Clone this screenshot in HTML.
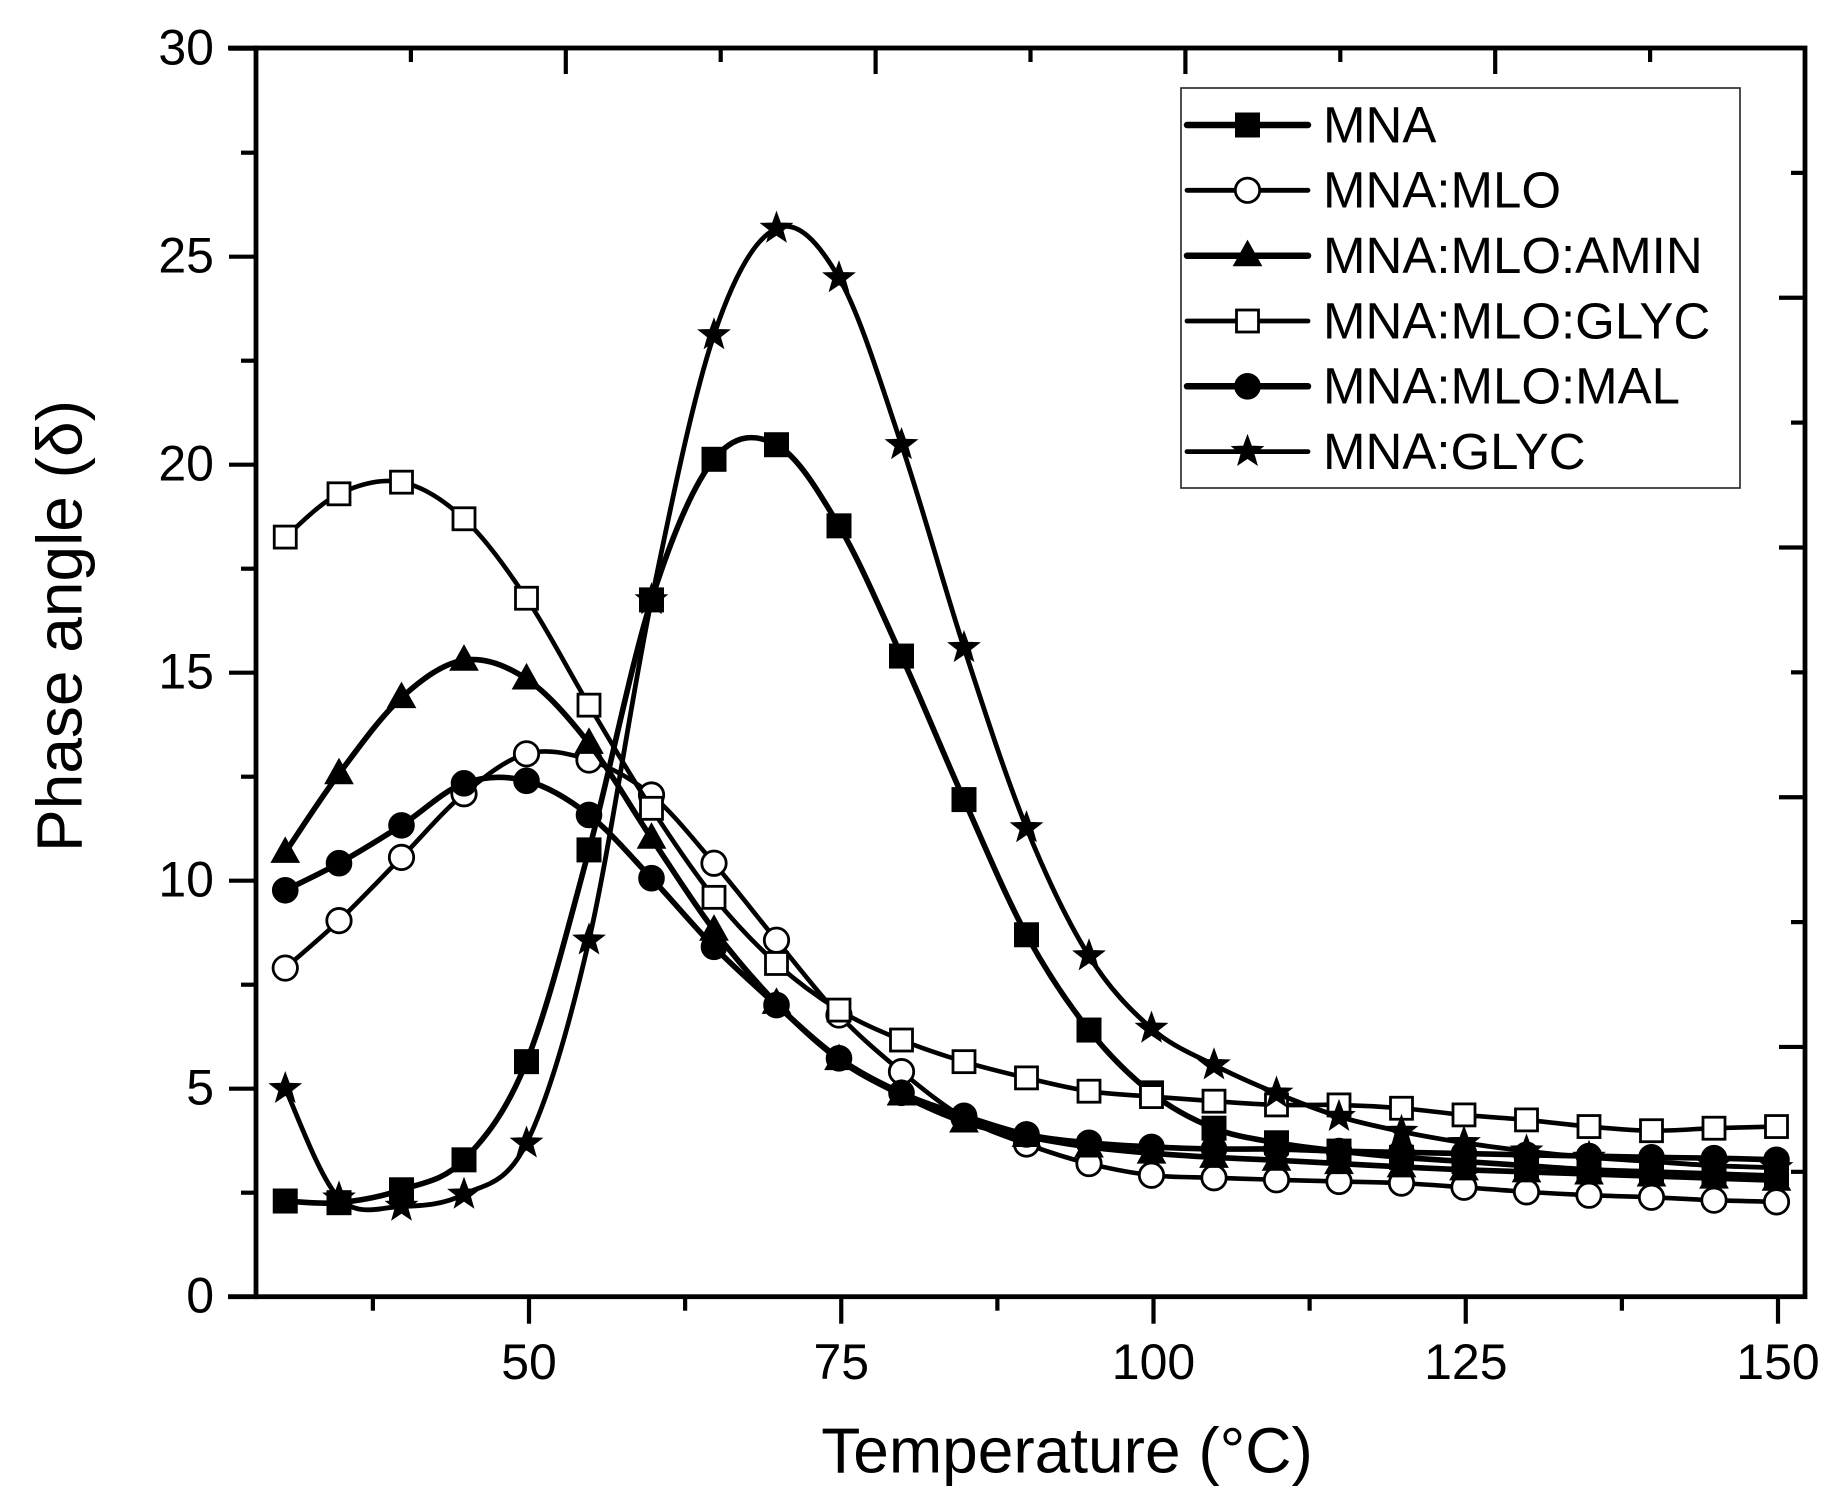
<!DOCTYPE html>
<html>
<head>
<meta charset="utf-8">
<style>
  html, body { margin:0; padding:0; background:#fff; }
  svg { display:block; }
  text { font-family: "Liberation Sans", Arial, sans-serif; fill:#000; }
</style>
</head>
<body>
<svg id="chart" width="1844" height="1511" viewBox="0 0 1844 1511" xmlns="http://www.w3.org/2000/svg">
  <rect x="0" y="0" width="1844" height="1511" fill="#fff"/>
  <g id="ticks" stroke="#000" stroke-width="4.2" stroke-linecap="butt"></g>
  <!-- frame -->
  <rect x="256" y="48" width="1549" height="1248.7" fill="none" stroke="#000" stroke-width="4.8"/>
  <line x1="228" y1="1296.7" x2="258" y2="1296.7" stroke="#000" stroke-width="4.8"/>
  <line x1="228" y1="48" x2="258" y2="48" stroke="#000" stroke-width="4.8"/>

  <g id="series"></g>

  <!-- Y tick labels -->
  <g font-size="50" text-anchor="end">
    <text x="214" y="1312.7">0</text>
    <text x="214" y="1104.7">5</text>
    <text x="214" y="896.7">10</text>
    <text x="214" y="688.7">15</text>
    <text x="214" y="480.7">20</text>
    <text x="214" y="272.7">25</text>
    <text x="214" y="64.7">30</text>
  </g>
  <!-- X tick labels -->
  <g font-size="50" text-anchor="middle">
    <text x="529" y="1379">50</text>
    <text x="841.3" y="1379">75</text>
    <text x="1153.5" y="1379">100</text>
    <text x="1465.8" y="1379">125</text>
    <text x="1778" y="1379">150</text>
  </g>
  <!-- Axis titles -->
  <text x="1067" y="1472.7" font-size="64" text-anchor="middle">Temperature (°C)</text>
  <text transform="translate(81.7,626) rotate(-90)" font-size="64" text-anchor="middle">Phase angle (δ)</text>

  <!-- Legend -->
  <rect x="1181" y="88" width="559" height="400" fill="#fff" stroke="#222" stroke-width="1.6"/>
  <g id="legend"></g>
  <g font-size="51">
    <text x="1323" y="142.3">MNA</text>
    <text x="1323" y="207.6">MNA:MLO</text>
    <text x="1323" y="273">MNA:MLO:AMIN</text>
    <text x="1323" y="338.3">MNA:MLO:GLYC</text>
    <text x="1323" y="403.6">MNA:MLO:MAL</text>
    <text x="1323" y="469">MNA:GLYC</text>
  </g>
</svg>
<script>
(function(){
  var NS = "http://www.w3.org/2000/svg";
  function el(tag, attrs, parent){
    var e = document.createElementNS(NS, tag);
    for (var k in attrs) e.setAttribute(k, attrs[k]);
    parent.appendChild(e);
    return e;
  }
  // ---------- ticks ----------
  var tg = document.getElementById("ticks");
  for (var i = 0; i <= 12; i++) {
    var v = i * 2.5, y = 1296.7 - v * 41.6;
    var len = (i % 2 === 0) ? 27 : 15;
    el("line", {x1: 256, y1: y, x2: 256 - len, y2: y}, tg);
  }
  var bt = [37.5, 50, 62.5, 75, 87.5, 100, 112.5, 125, 137.5, 150];
  bt.forEach(function(T){
    var x = 529 + (T - 50) * 12.49;
    var major = (T % 25 === 0);
    el("line", {x1: x, y1: 1296.7, x2: x, y2: 1296.7 + (major ? 27 : 14)}, tg);
  });
  for (var k = 1; k <= 9; k++) {
    var x = 256 + k * 154.9;
    el("line", {x1: x, y1: 48, x2: x, y2: 48 + (k % 2 === 0 ? 26 : 14)}, tg);
  }
  for (var k = 1; k <= 9; k++) {
    var y = 48 + k * 124.87;
    el("line", {x1: 1805, y1: y, x2: 1805 - (k % 2 === 0 ? 26 : 14), y2: y}, tg);
  }

  // ---------- data ----------
  var Ts = [30.7];
  for (var t = 35; t <= 150; t += 5) Ts.push(t);
  function X(T){ return 526.5 + (T - 50) * 12.5; }
  function Y(v){ return 1296.7 - v * 41.6; }

  var series = [
    {name:"MNA", m:"sq", fill:true, lw:5.6, d:[2.30,2.26,2.57,3.29,5.65,10.74,16.75,20.13,20.48,18.53,15.4,11.95,8.7,6.41,4.9,4.05,3.7,3.5,3.35,3.25,3.15,3.05,3.0,2.95,2.9]},
    {name:"MLO", m:"ci", fill:false, lw:4.6, d:[7.9,9.04,10.56,12.09,13.05,12.9,12.06,10.42,8.57,6.77,5.41,4.3,3.67,3.2,2.92,2.86,2.81,2.77,2.73,2.63,2.52,2.44,2.39,2.32,2.28]},
    {name:"AMIN", m:"tr", fill:true, lw:5.6, d:[10.68,12.57,14.4,15.3,14.85,13.3,11.02,8.81,7.05,5.7,4.85,4.2,3.85,3.6,3.45,3.35,3.28,3.2,3.12,3.05,3.0,2.95,2.9,2.85,2.8]},
    {name:"GLYC", m:"sq", fill:false, lw:4.6, d:[18.26,19.3,19.58,18.7,16.79,14.22,11.74,9.6,8.01,6.89,6.17,5.65,5.26,4.94,4.81,4.70,4.61,4.61,4.53,4.37,4.25,4.09,3.99,4.05,4.09]},
    {name:"MAL", m:"ci", fill:true, lw:5.6, d:[9.77,10.42,11.33,12.34,12.4,11.58,10.06,8.41,7.01,5.73,4.9,4.35,3.9,3.7,3.6,3.55,3.55,3.5,3.47,3.44,3.41,3.38,3.35,3.33,3.29]},
    {name:"STAR", m:"st", fill:true, lw:4.8, d:[5.0,2.37,2.17,2.46,3.69,8.57,16.75,23.12,25.68,24.49,20.48,15.6,11.27,8.19,6.45,5.57,4.89,4.33,3.97,3.7,3.5,3.35,3.25,3.15,3.1]}
  ];

  function splinePath(pts){
    var d = "M" + pts[0][0].toFixed(2) + "," + pts[0][1].toFixed(2);
    for (var i = 0; i < pts.length - 1; i++) {
      var p0 = pts[i-1] || pts[i], p1 = pts[i], p2 = pts[i+1], p3 = pts[i+2] || pts[i+1];
      var c1x = p1[0] + (p2[0] - p0[0]) / 6, c1y = p1[1] + (p2[1] - p0[1]) / 6;
      var c2x = p2[0] - (p3[0] - p1[0]) / 6, c2y = p2[1] - (p3[1] - p1[1]) / 6;
      d += " C" + c1x.toFixed(2) + "," + c1y.toFixed(2) + " " + c2x.toFixed(2) + "," + c2y.toFixed(2) + " " + p2[0].toFixed(2) + "," + p2[1].toFixed(2);
    }
    return d;
  }

  function marker(type, fill, x, y, g){
    var f = fill ? "#000" : "#fff";
    var sw = fill ? 1 : 2.8;
    if (type === "sq") {
      var s = fill ? 24 : 22;
      el("rect", {x: x - s/2, y: y - s/2, width: s, height: s, fill: f, stroke: "#000", "stroke-width": sw}, g);
    } else if (type === "ci") {
      el("circle", {cx: x, cy: y, r: fill ? 12.8 : 12.2, fill: f, stroke: "#000", "stroke-width": sw}, g);
    } else if (type === "tr") {
      var w = 28, h = 25;
      el("polygon", {points: x + "," + (y - h*0.6) + " " + (x - w/2) + "," + (y + h*0.4) + " " + (x + w/2) + "," + (y + h*0.4), fill: f, stroke: "#000", "stroke-width": sw}, g);
    } else if (type === "st") {
      var R = 16, r = 6.6, pts = [];
      for (var i = 0; i < 10; i++) {
        var a = -Math.PI/2 + i * Math.PI / 5;
        var rr = (i % 2 === 0) ? R : r;
        pts.push((x + rr*Math.cos(a)).toFixed(2) + "," + (y + rr*Math.sin(a)).toFixed(2));
      }
      el("polygon", {points: pts.join(" "), fill: "#000", stroke: "#000", "stroke-width": 1.2}, g);
    }
  }

  var sg = document.getElementById("series");
  series.forEach(function(s){
    var g = el("g", {}, sg);
    var pts = s.d.map(function(v, i){ return [X(Ts[i]), Y(v)]; });
    el("path", {d: splinePath(pts), fill: "none", stroke: "#000", "stroke-width": s.lw, "stroke-linejoin": "round", "stroke-linecap": "round"}, g);
    pts.forEach(function(p){ marker(s.m, s.fill, p[0], p[1], g); });
  });

  // ---------- legend samples ----------
  var lg = document.getElementById("legend");
  var rows = [125, 190.3, 255.7, 321, 386.3, 451.6];
  series.forEach(function(s, i){
    var y = rows[i];
    el("line", {x1: 1187, y1: y, x2: 1308, y2: y, stroke: "#000", "stroke-width": (s.lw > 5 ? 6.5 : 4.8), "stroke-linecap": "round"}, lg);
    marker(s.m, s.fill, 1247.5, y, lg);
  });
})();
</script>
</body>
</html>
